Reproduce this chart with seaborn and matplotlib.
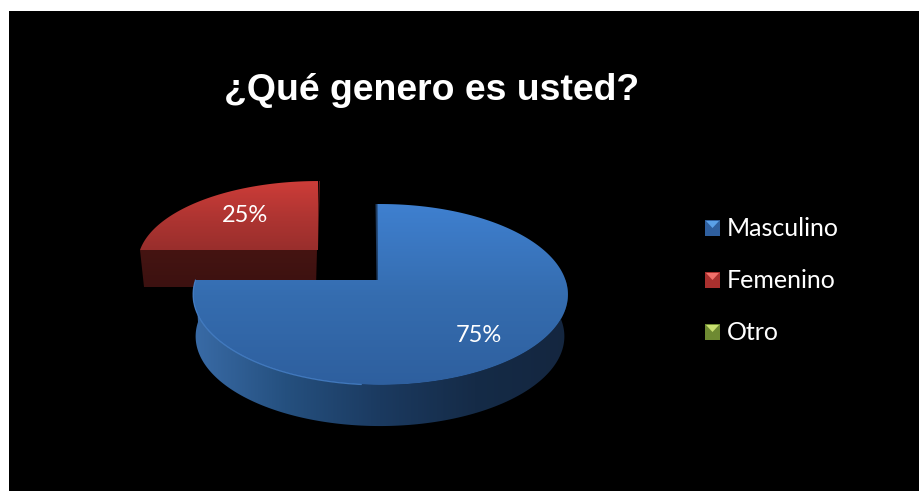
"""
Pie chart (fake 3D) -- ¿Qué genero es usted?
"""

import numpy as np
import matplotlib
matplotlib.use("Agg")
import matplotlib.pyplot as plt
import seaborn as sns
from matplotlib.patches import Polygon, Rectangle

TITLE = "¿Qué genero es usted?"
CATEGORIES = ["Masculino", "Femenino", "Otro"]
VALUES = [75, 25, 0]

sns.set_theme(style="white")
LABEL_FONT = "Lato"

# one tilted disc per slice: centre, half width, half height, perspective
BLUE_TOP = dict(x0=380.5, y0=280, a=185, b=43.3, k=0.1602)
BLUE_BASE = dict(x0=380, y0=322, a=182, b=35.8, k=0.1602)
RED_TOP = dict(x0=318, y0=250, a=178, b=40, k=0.16)
BLUE_VERTEX = (378, 280)

TOP_RAMPS = [["#3F80D0", "#356DB0", "#2E5F9E"], ["#CE3D39", "#B03532", "#982E2C"]]
SWATCHES = [("#2F5F9E", "#5AA0E8"), ("#A8302E", "#F0706A"), ("#6E8A32", "#C8E070")]


def rim(disc, start, end, n=200):
    """Points on a disc's edge, angles in degrees."""
    t = np.radians(np.linspace(start, end, n))
    w = 1 + disc["k"] * np.sin(t)
    return np.column_stack([disc["x0"] + disc["a"] * np.cos(t) / w,
                            (disc["y0"] - disc["b"] * np.sin(t)) / w])


def gradient(ax, poly, ramp, extent, vertical=True):
    cmap = sns.blend_palette(ramp, n_colors=256, as_cmap=True)
    g = np.linspace(0, 1, 256)
    g = g[:, None] if vertical else g[None, :]
    patch = Polygon(poly, closed=True, facecolor="none", edgecolor="none")
    ax.add_patch(patch)
    im = ax.imshow(g, cmap=cmap, extent=extent, aspect="auto", origin="upper", zorder=patch.get_zorder())
    im.set_clip_path(patch)
    return im


fig = plt.figure(figsize=(9.19, 4.91), dpi=100, facecolor="white")
ax = fig.add_axes([0, 0, 1, 1])
ax.add_patch(Rectangle((9, 11), 910, 480, facecolor="black", edgecolor="none"))

# slice sweeps, clockwise from the top
sweeps = 360 * np.array(VALUES) / sum(VALUES)
blue_end = 90 - sweeps[0]
red_start = 90 + sweeps[1]

# red slice, pulled out to the back left
red_arc = rim(RED_TOP, 90, red_start)
red_v = (RED_TOP["x0"], RED_TOP["y0"])
front = np.array([[140, 250], [317, 250], [316, 287], [144, 287]])
gradient(ax, front, ["#451412", "#3C1110"], (140, 318, 288, 250))
side = np.array([[319, 181], [320, 181], [318, 250], [316, 250]])
ax.add_patch(Polygon(side, closed=True, facecolor="#5A1A18", edgecolor="none"))
gradient(ax, np.vstack([red_v, red_arc]), TOP_RAMPS[1], (135, 325, 251, 181))

# blue slice: wall first, then the top
wall_top = rim(BLUE_TOP, 6, -180)
wall_base = rim(BLUE_BASE, 6, -180)
wall = np.vstack([wall_top, wall_base[::-1]])
gradient(ax, wall, ["#3A6CA8", "#25507F", "#1B3A60", "#152B47", "#14263F"], (190, 570, 430, 280), vertical=False)

blue_arc = rim(BLUE_TOP, 90, blue_end)
strip = np.array([[375.5, 204], [378, 204], [378.5, 280], [376.5, 280]])
ax.add_patch(Polygon(strip, closed=True, facecolor="#1E3C62", edgecolor="none"))
gradient(ax, np.vstack([BLUE_VERTEX, (377.5, 204), blue_arc]), TOP_RAMPS[0], (185, 575, 386, 203))

# light edge along the front of the top
edge = rim(BLUE_TOP, 180, 265)
ax.plot(edge[:, 0], edge[:, 1], color="#4A86D0", lw=0.9, alpha=0.8, solid_capstyle="round")

# labels
ax.text(431.5, 90, TITLE, color="white", fontsize=26.9, fontweight="bold", family="Liberation Sans", ha="center", va="center")
ax.text(245, 215, f"{VALUES[1]}%", color="white", fontsize=17, family=LABEL_FONT, ha="center", va="center")
ax.text(479, 335, f"{VALUES[0]}%", color="white", fontsize=17, family=LABEL_FONT, ha="center", va="center")

# legend
for i, (name, (dark, light)) in enumerate(zip(CATEGORIES, SWATCHES)):
    yc = 228 + 52 * i
    ax.add_patch(Rectangle((705, yc - 8), 15, 16, facecolor=dark, edgecolor="none"))
    ax.add_patch(Polygon([[706, yc - 7], [719, yc - 7], [712.5, yc]], closed=True, facecolor=light, edgecolor="none"))
    ax.text(727, yc + 1, name, color="white", fontsize=18, family=LABEL_FONT, ha="left", va="center")

ax.set_xlim(0, 919)
ax.set_ylim(491, 0)
ax.axis("off")
fig.savefig("out.png", dpi=100, facecolor="white")
